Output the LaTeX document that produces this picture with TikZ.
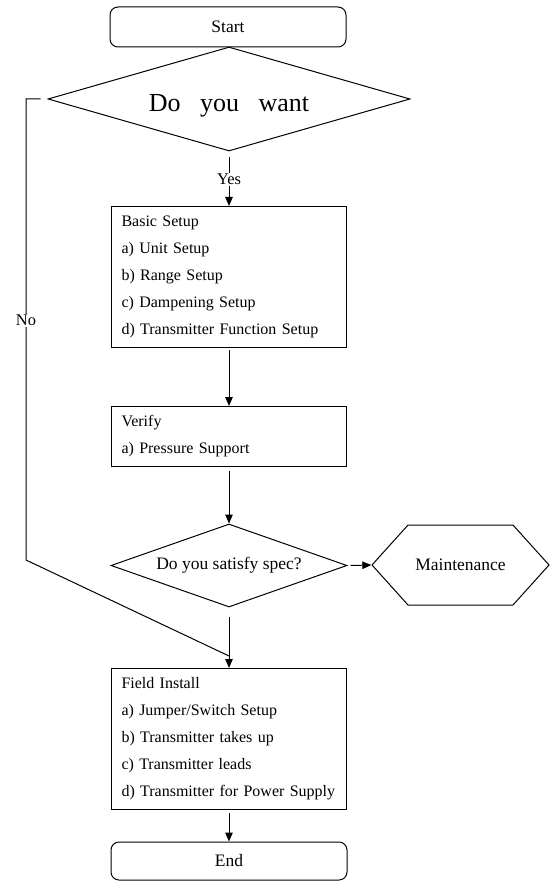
\documentclass[tikz,border=0pt]{standalone}
\usepackage{fontspec}
\setmainfont{Liberation Serif}
\usetikzlibrary{shapes.geometric,shapes.symbols,arrows.meta}

\tikzset{
  termbox/.style={draw, rounded corners=8pt, minimum width=236pt, minimum height=40pt, inner sep=0pt, font=\fontsize{17.5}{20}\selectfont},
  stepbox/.style={draw, anchor=north west, text width=215pt, inner xsep=10pt, inner ysep=0pt, align=left, font=\fontsize{16}{27}\selectfont},
  askbox/.style={draw, diamond, inner sep=0pt, font=\fontsize{17.5}{20}\selectfont},
  flow/.style={-{Triangle[length=9pt,width=7.5pt]}},
  flowlabel/.style={fill=white, inner sep=1pt, font=\fontsize{16.4}{20}\selectfont},
}

\begin{document}
\begin{tikzpicture}[x=1pt, y=-1pt, line width=1pt]
  \useasboundingbox (0,0) rectangle (553,882);

  \node[termbox] (start) at (228,27) {Start};
  \node[askbox, aspect=3.48, minimum width=362pt, minimum height=104pt, text height=26pt, text depth=0pt, font=\fontsize{26}{30}\selectfont] (want) at (229,99) {Do~~~you~~~want};
  \node[stepbox, minimum height=141pt] (basic) at (111,206) {Basic Setup\\ a) Unit Setup\\ b) Range Setup\\ c) Dampening Setup\\ d) Transmitter Function Setup};
  \node[stepbox, minimum height=60pt] (verify) at (111,406) {Verify\\ a) Pressure Support};
  \node[askbox, aspect=2.84, minimum width=236pt, minimum height=83pt] (satisfy) at (229,565.5) {Do you satisfy spec?};
  \node[draw, signal, signal to=east and west, signal pointer angle=96, minimum width=177pt, minimum height=80pt, inner sep=0pt, font=\fontsize{17.5}{20}\selectfont] (maint) at (460.5,565) {Maintenance};
  \node[stepbox, minimum height=141pt] (field) at (111,668) {Field Install\\ a) Jumper/Switch Setup\\ b) Transmitter takes up\\ c) Transmitter leads\\ d) Transmitter for Power Supply};
  \node[termbox, minimum height=38pt] (end) at (229,861) {End};

  % main line
  \draw[flow] ([yshift=-6pt]want.south) -- node[flowlabel, pos=0.45] {Yes} (basic.north);
  \draw[flow] ([yshift=-2pt]basic.south) -- (verify.north);
  \draw[flow] ([yshift=-4pt]verify.south) -- (satisfy.north);
  \draw[flow] ([xshift=3pt]satisfy.east) -- (maint.west);
  \draw[flow] ([yshift=-9pt]satisfy.south) -- (field.north);
  \draw[flow] ([yshift=-3pt]field.south) -- (end.north);

  % no branch
  \coordinate (nocorner) at (26,560);
  \draw ([xshift=-7pt]want.west) -| node[flowlabel, pos=0.74] {No} (nocorner) -- ([yshift=12pt]field.north);
\end{tikzpicture}
\end{document}
